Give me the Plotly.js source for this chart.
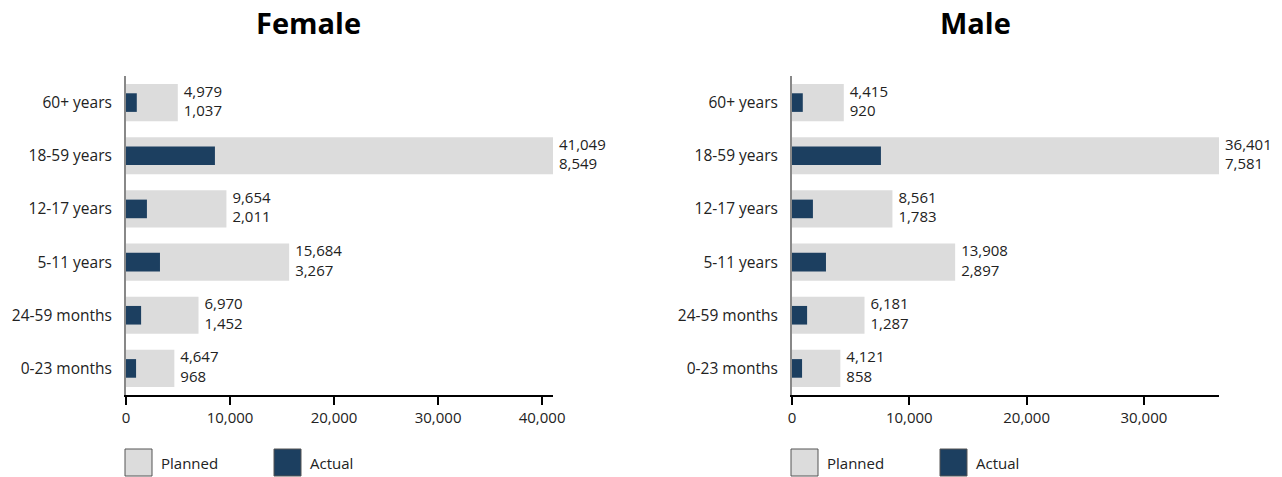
<!DOCTYPE html>
<html>
<head>
<meta charset="utf-8">
<script src="https://cdn.plot.ly/plotly-3.0.1.min.js"></script>
<style>html,body{margin:0;padding:0;background:#fff;}#chart{width:1282px;height:477px;}</style>
</head>
<body>
<div id="chart"></div>
<script>
// Data (top to bottom)
const categories = ['60+ years', '18-59 years', '12-17 years', '5-11 years', '24-59 months', '0-23 months'];
const femalePlanned = [4979, 41049, 9654, 15684, 6970, 4647];
const femaleActual = [1037, 8549, 2011, 3267, 1452, 968];
const malePlanned = [4415, 36401, 8561, 13908, 6181, 4121];
const maleActual = [920, 7581, 1783, 2897, 1287, 858];
const tickValues = [0, 10000, 20000, 30000, 40000];
const panelTitles = ['Female', 'Male'];
const seriesNames = ['Planned', 'Actual'];

const W = 1282, H = 477;
const PLANNED_COLOR = '#dcdcdc';
const ACTUAL_COLOR = '#1c3f60';
const TEXT_COLOR = '#222';
const FONT = '"Open Sans", "Noto Sans", sans-serif';
const px = x => x / W;
const py = y => 1 - y / H;
const fmt = v => v.toLocaleString('en-US');

function panel(planned, actual, xa, ya) {
  return [
    {type: 'bar', orientation: 'h', x: planned, y: categories, xaxis: xa, yaxis: ya,
     width: 0.7, marker: {color: PLANNED_COLOR}, name: seriesNames[0], showlegend: false, hoverinfo: 'x+y'},
    {type: 'bar', orientation: 'h', x: actual, y: categories, xaxis: xa, yaxis: ya,
     width: 0.35, marker: {color: ACTUAL_COLOR}, name: seriesNames[1], showlegend: false, hoverinfo: 'x+y'},
    {type: 'scatter', mode: 'markers+text', x: planned, y: categories, xaxis: xa, yaxis: ya,
     marker: {size: 8, opacity: 0},
     text: planned.map((p, i) => fmt(p) + '<br>' + fmt(actual[i])),
     textposition: 'middle right', cliponaxis: false, showlegend: false, hoverinfo: 'skip',
     textfont: {size: 15, color: TEXT_COLOR, family: FONT}}
  ];
}

const data = [].concat(panel(femalePlanned, femaleActual, 'x', 'y'), panel(malePlanned, maleActual, 'x2', 'y2'));

function xaxisDef(domain, max) {
  return {domain: domain, range: [0, max], tickvals: tickValues, ticktext: tickValues.map(fmt),
    showgrid: false, zeroline: false, showline: true, linecolor: '#000', linewidth: 2,
    ticks: 'outside', ticklen: 8, tickwidth: 2, tickcolor: '#000',
    tickfont: {size: 15, color: TEXT_COLOR, family: FONT}, fixedrange: true};
}
function yaxisDef(anchor) {
  return {domain: [py(395), py(76)], anchor: anchor, type: 'category', categoryorder: 'array', categoryarray: categories,
    autorange: 'reversed', showgrid: false, zeroline: false, showline: true, linecolor: '#888', linewidth: 2,
    ticks: '', ticklabelstandoff: 9, tickfont: {size: 15.5, color: TEXT_COLOR, family: FONT}, fixedrange: true};
}

const panels = [{x0: 126, x1: 553, max: Math.max(...femalePlanned), titleX: 308},
                {x0: 792, x1: 1219, max: Math.max(...malePlanned), titleX: 975}];

const shapes = [], annotations = [];
panels.forEach((p, i) => {
  annotations.push({xref: 'paper', yref: 'paper', x: px(p.titleX), y: py(22), xanchor: 'center', yanchor: 'middle',
    text: '<b>' + panelTitles[i] + '</b>', showarrow: false, font: {size: 29, color: '#000', family: FONT}});
  [[0, PLANNED_COLOR], [149, ACTUAL_COLOR]].forEach(([off, col], j) => {
    shapes.push({type: 'rect', xref: 'paper', yref: 'paper', x0: px(p.x0 - 1 + off), x1: px(p.x0 - 1 + off + 27),
      y0: py(476), y1: py(449), fillcolor: col, line: {color: '#555', width: 1}});
    annotations.push({xref: 'paper', yref: 'paper', x: px(p.x0 - 1 + off + 34), y: py(463), xanchor: 'left', yanchor: 'middle',
      text: seriesNames[j], showarrow: false, font: {size: 15, color: TEXT_COLOR, family: FONT}});
  });
});

const layout = {
  width: W, height: H, margin: {l: 0, r: 0, t: 0, b: 0},
  paper_bgcolor: '#fff', plot_bgcolor: '#fff', barmode: 'overlay', showlegend: false,
  font: {family: FONT, color: TEXT_COLOR},
  xaxis: xaxisDef([px(panels[0].x0), px(panels[0].x1)], panels[0].max),
  yaxis: yaxisDef('x'),
  xaxis2: Object.assign(xaxisDef([px(panels[1].x0), px(panels[1].x1)], panels[1].max), {anchor: 'y2'}),
  yaxis2: yaxisDef('x2'),
  shapes: shapes, annotations: annotations
};
layout.xaxis.anchor = 'y';

Plotly.newPlot('chart', data, layout, {displayModeBar: false, staticPlot: true});
</script>
</body>
</html>
